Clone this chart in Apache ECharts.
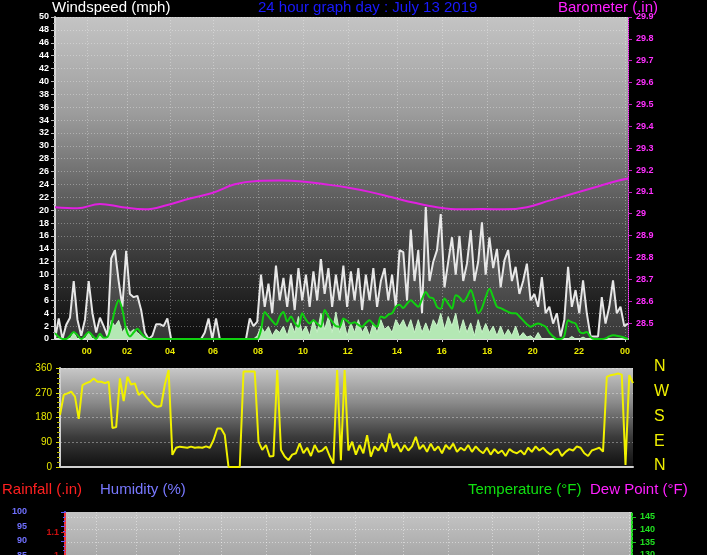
<!DOCTYPE html>
<html>
<head>
<meta charset="utf-8">
<script src="https://cdn.jsdelivr.net/npm/echarts@6/dist/echarts.min.js"></script>
<style>
  html, body { margin: 0; padding: 0; background: #000; }
  #chart { width: 707px; height: 555px; }
</style>
</head>
<body>
<div id="chart"></div>
<script>
// x is the sample number along the day (one sample every few minutes)
const sampleCount = 154
const hourTickIndex = [8.5, 19.2, 30.7, 42.2, 54.2, 66.2, 78.2, 91.3, 103.3, 115.4, 127.6, 139.9, 152.2]
const hourLabels = ['00', '02', '04', '06', '08', '10', '12', '14', '16', '18', '20', '22', '00']

// wind gust (white)
const windGust = [
  0, 3.2, 0, 2.2, 3.3, 9, 3, 0.5, 3, 9,
  4, 1, 3.3, 2, 0.5, 12.5, 13.8, 9, 5, 13.7,
  7, 6.5, 6.7, 4.5, 1, 0, 0.5, 2.3, 2.3, 2,
  3.2, 0, 0, 0, 0, 0, 0, 0, 0, 0,
  1, 3.2, 0, 3.2, 0, 0, 0, 0, 0, 0,
  0, 0, 3.2, 2, 2.7, 10, 5, 8.6, 4, 11.4,
  6, 9.5, 5, 10, 4.5, 11, 6, 10, 5, 10.5,
  6, 12.4, 7, 11, 5, 10, 6, 11.4, 5, 10.5,
  6, 11, 4.5, 10, 6, 11, 5, 9, 11, 6,
  10, 5, 13.8, 13.5, 6, 17, 9, 13.8, 4, 20.5,
  9, 12, 13.8, 19.4, 8, 12, 15.8, 10, 16, 9,
  11.7, 16.9, 9, 12, 18.1, 10, 15.8, 11, 14, 8,
  12.2, 13.8, 9, 11.2, 7, 9, 11.7, 6, 7, 5,
  9.6, 4, 5, 2.4, 4, 0.4, 3, 11.2, 5, 7.6,
  4, 9.1, 4, 0.4, 0.4, 0.4, 6.5, 2.4, 5, 9.1,
  4, 5, 2, 2.4
]

// wind speed (pale green fill)
const windSpeed = [
  0, 0, 0, 0, 0, 1, 0, 0, 0, 1,
  0, 0, 0.5, 0, 0, 2.9, 2, 2.9, 1, 2,
  1, 1.5, 1, 0.5, 0, 0, 0, 0, 0, 0,
  0, 0, 0, 0, 0, 0, 0, 0, 0, 0,
  0, 0, 0, 0, 0, 0, 0, 0, 0, 0,
  0, 0, 0, 0, 0.5, 2, 1, 1.9, 0.5, 1.5,
  1, 2, 0.5, 2.5, 1, 3.5, 1, 2, 0.5, 3,
  1, 4, 1.5, 3.5, 1, 4.2, 1, 3, 0.5, 2.5,
  1, 3, 1, 2, 0.5, 2.5, 1, 3, 1.5, 2,
  1, 3, 2, 3, 1.5, 3, 1, 3, 1, 2.5,
  1, 3, 2, 4, 1.5, 3.5, 2, 4, 1, 3,
  1, 2.5, 0.5, 3, 1, 2.4, 1, 2, 0.5, 2,
  0.5, 1.5, 0.5, 2, 0.3, 1, 0.3, 0.5, 0, 1,
  0, 0, 0, 0, 0, 0, 0, 0, 0.4, 0,
  0, 0.3, 0, 0, 0, 0, 0, 0, 0, 0,
  0, 0, 0, 0
]

// average wind (green line)
const windAvg = [
  0.9, 0.3, 0, 0, 0.5, 1.1, 0.6, 0, 0.5, 1.1,
  0.5, 0, 0.8, 0.2, 0.3, 2, 4.5, 6, 4.5, 1.5,
  0.4, 1, 1.6, 0.9, 0.3, 0, 0, 0, 0, 0,
  0, 0, 0, 0, 0, 0, 0, 0, 0, 0,
  0, 0, 0, 0, 0, 0, 0, 0, 0, 0,
  0, 0, 0, 0, 0, 1.4, 4.2, 3.5, 2.8, 2.2,
  3.5, 4.2, 2.7, 3.5, 2.5, 1.9, 4, 3, 2.4, 2.9,
  2.4, 1.9, 4.5, 3.5, 2.7, 2, 1.9, 3.2, 2.8, 2.4,
  2.6, 2.2, 1.9, 2.5, 2.9, 2.3, 1.9, 3.5, 3.3, 3.8,
  4, 5, 5.3, 4.8, 5.5, 6, 5.5, 5, 6.2, 7.3,
  6.5, 6.3, 5, 4.7, 6.3, 5.5, 4.7, 6.8, 6.5, 5.8,
  6.5, 7.6, 6, 4, 4.8, 6.5, 7.8, 6.5, 5, 4.8,
  4.5, 4.2, 4, 4, 3.5, 2.9, 2.3, 1.9, 2.2, 2.4,
  2.2, 1.9, 1, 0.4, 0, 0, 0.5, 2.9, 2.6, 2.4,
  1.2, 0.9, 1.1, 0.3, 0, 0, 0, 0.1, 0.4, 0.6,
  0.5, 0.4, 0.2, 0
]

// barometer, one reading every 6 samples
const baroStep = 6
const barometer = [
  29.03, 29.025, 29.045, 29.03, 29.02, 29.04, 29.07, 29.095, 29.135, 29.15,
  29.152, 29.148, 29.135, 29.12, 29.1, 29.075, 29.05, 29.03, 29.02, 29.022,
  29.02, 29.03, 29.06, 29.09, 29.12, 29.15, 29.17
]
const baroTicks = [28.5, 28.6, 28.7, 28.8, 28.9, 29, 29.1, 29.2, 29.3, 29.4, 29.5, 29.6, 29.7, 29.8, 29.9]

// wind direction (degrees)
const windDir = [
  189, 262, 268, 274, 256, 175, 298, 305, 310, 322,
  310, 310, 305, 310, 142, 145, 322, 240, 328, 300,
  304, 262, 274, 256, 240, 225, 219, 222, 300, 353,
  44, 70, 74, 72, 70, 74, 70, 72, 70, 75,
  70, 98, 140, 140, 116, 0, 0, 0, 0, 347,
  347, 347, 347, 92, 62, 80, 38, 40, 353, 62,
  38, 25, 45, 50, 86, 50, 70, 40, 80, 55,
  60, 74, 40, 13, 353, 25, 353, 60, 92, 45,
  80, 50, 116, 38, 75, 60, 86, 55, 122, 70,
  86, 55, 80, 60, 75, 110, 65, 80, 55, 85,
  60, 75, 50, 80, 65, 85, 55, 70, 60, 80,
  55, 75, 60, 50, 70, 45, 65, 50, 60, 40,
  65, 55, 50, 60, 45, 70, 55, 75, 60, 70,
  55, 45, 60, 65, 40, 55, 65, 60, 75, 70,
  50, 40, 60, 65, 70, 56, 328, 334, 336, 340,
  336, 7, 334, 305
]
const compassLabels = ['N', 'W', 'S', 'E', 'N']
const compassValues = [360, 270, 180, 90, 0]

// lower panel axes (only the top of this panel is in view)
const rainTicks = [1.1, 1]
const tempTicks = [145, 140, 135, 130]

const font = '"Liberation Sans", Arial, sans-serif'

const chart = echarts.init(document.getElementById('chart'))

const plotGradient = (stops) => new echarts.graphic.LinearGradient(0, 0, 0, 1,
  stops.map(s => ({ offset: s[0], color: s[1] })))

const hourLabel = (v) => {
  let best = 0
  hourTickIndex.forEach((t, i) => {
    if (Math.abs(t - v) < Math.abs(hourTickIndex[best] - v)) best = i
  })
  return hourLabels[best]
}

const dotted = { color: 'rgba(255,255,255,0.32)', type: [1, 2], width: 1 }

const titleText = (text, left, top, fill, size) => ({
  type: 'text',
  left: left,
  top: top,
  style: { text: text, fill: fill, font: (size || 15) + 'px ' + font }
})

const dirPlotTop = 368
const dirPlotHeight = 99

const option = {
  backgroundColor: '#000',
  animation: false,
  textStyle: { fontFamily: font },
  grid: [
    {
      left: 55, top: 17, width: 573, height: 322,
      show: true, borderWidth: 0, outerBoundsMode: 'none',
      backgroundColor: plotGradient([[0, '#c4c4c4'], [0.3, '#9c9c9c'], [0.6, '#555555'], [0.85, '#262626'], [1, '#0c0c0c']])
    },
    {
      left: 60, top: dirPlotTop, width: 573, height: dirPlotHeight,
      show: true, borderWidth: 0, outerBoundsMode: 'none',
      backgroundColor: plotGradient([[0, '#c8c8c8'], [0.35, '#8a8a8a'], [0.7, '#3a3a3a'], [1, '#101010']])
    },
    {
      left: 65, top: 512, width: 567, height: 43.5,
      show: true, borderWidth: 0, outerBoundsMode: 'none',
      backgroundColor: plotGradient([[0, '#c4c4c4'], [1, '#a8a8a8']])
    }
  ],
  xAxis: [
    {
      gridIndex: 0, type: 'value', min: 0, max: sampleCount - 1,
      axisLine: { show: true, onZero: false, lineStyle: { color: '#e0e0e0', width: 2 } },
      axisTick: { show: true, customValues: hourTickIndex, length: 3, lineStyle: { color: '#cccccc' } },
      axisLabel: {
        customValues: hourTickIndex, formatter: hourLabel,
        color: '#e8e800', fontSize: 9, fontWeight: 'bold', margin: 8
      },
      splitLine: { show: true, lineStyle: dotted }
    },
    {
      gridIndex: 1, type: 'value', min: 0, max: sampleCount - 1,
      axisLine: { show: true, onZero: false, lineStyle: { color: '#d0d0d0', width: 2 } },
      axisTick: { show: false },
      axisLabel: { show: false },
      splitLine: { show: false }
    },
    {
      gridIndex: 2, type: 'value', min: 0, max: sampleCount - 1,
      axisLine: { show: false },
      axisTick: { show: false, customValues: hourTickIndex },
      axisLabel: { show: false, customValues: hourTickIndex },
      splitLine: { show: true, lineStyle: { color: 'rgba(255,255,255,0.45)', type: [1, 2], width: 1 } }
    }
  ],
  yAxis: [
    {
      gridIndex: 0, type: 'value', min: 0, max: 50, interval: 2, position: 'left',
      axisLine: { show: true, lineStyle: { color: '#d8d8d8', width: 2 } },
      axisTick: { show: true, length: 4, lineStyle: { color: '#bbbbbb' } },
      minorTick: { show: true, splitNumber: 2, length: 2, lineStyle: { color: '#999999' } },
      axisLabel: { color: '#ffffff', fontSize: 9, fontWeight: 'bold', margin: 6 },
      splitLine: { show: true, lineStyle: dotted }
    },
    {
      gridIndex: 0, type: 'value', min: 28.427, max: 29.9, position: 'right',
      axisLine: { show: true, lineStyle: { color: '#ff40ff', width: 1, type: 'dotted' } },
      axisTick: { show: true, customValues: baroTicks, length: 4, lineStyle: { color: '#c020c0' } },
      axisLabel: { customValues: baroTicks, color: '#ff30ff', fontSize: 9, fontWeight: 'bold', margin: 8 },
      splitLine: { show: false }
    },
    {
      gridIndex: 1, type: 'value', min: 0, max: 360, interval: 90, position: 'left',
      axisLine: { show: true, lineStyle: { color: '#d0d0d0', width: 2 } },
      axisTick: { show: true, length: 4, lineStyle: { color: '#d8d800' } },
      minorTick: { show: true, splitNumber: 5, length: 3, lineStyle: { color: '#b8b800' } },
      axisLabel: { color: '#e8e800', fontSize: 10, margin: 8 },
      splitLine: { show: true, lineStyle: { color: 'rgba(255,255,255,0.35)', type: [2, 2] } }
    },
    {
      gridIndex: 2, type: 'value', min: 85, max: 100, interval: 5, position: 'left', offset: 33,
      axisLine: { show: true, lineStyle: { color: '#5a5aff', width: 2 } },
      axisTick: { show: true, length: 4, lineStyle: { color: '#5a5aff' } },
      minorTick: { show: true, splitNumber: 3, length: 2, lineStyle: { color: '#5a5aff' } },
      axisLabel: { color: '#7070ff', fontSize: 9, fontWeight: 'bold', margin: 5 },
      splitLine: { show: false }
    },
    {
      gridIndex: 2, type: 'value', min: 0.998, max: 1.187, position: 'left', offset: 0,
      axisLine: { show: true, lineStyle: { color: '#ff3030', width: 2, type: 'dotted' } },
      axisTick: { show: true, customValues: rainTicks, length: 4, lineStyle: { color: '#d02020' } },
      axisLabel: { customValues: rainTicks, color: '#cc1010', fontSize: 9, fontWeight: 'bold', margin: 6 },
      splitLine: { show: false }
    },
    {
      gridIndex: 2, type: 'value', min: 129.8, max: 146.97, position: 'right',
      axisLine: { show: true, lineStyle: { color: '#20e020', width: 2, type: 'dotted' } },
      axisTick: { show: true, customValues: tempTicks, length: 4, lineStyle: { color: '#20c020' } },
      axisLabel: { customValues: tempTicks, color: '#20e020', fontSize: 9, fontWeight: 'bold', margin: 8 },
      splitLine: { show: true, lineStyle: { color: 'rgba(255,255,255,0.45)', type: [1, 2], width: 1 } }
    }
  ],
  series: [
    {
      name: 'Gust', type: 'line', xAxisIndex: 0, yAxisIndex: 0,
      data: windGust.map((v, i) => [i, v]),
      showSymbol: false, clip: true,
      lineStyle: { color: 'rgba(240,240,240,0.95)', width: 2 },
      areaStyle: { color: 'rgba(255,255,255,0.26)' }
    },
    {
      name: 'Wind', type: 'line', xAxisIndex: 0, yAxisIndex: 0,
      data: windSpeed.map((v, i) => [i, v]),
      showSymbol: false, clip: true,
      lineStyle: { color: '#c8f4c8', width: 1 },
      areaStyle: { color: '#b4e8b4', opacity: 1 }
    },
    {
      name: 'Average', type: 'line', xAxisIndex: 0, yAxisIndex: 0,
      data: windAvg.map((v, i) => [i, v]),
      showSymbol: false, smooth: 0.3, clip: true,
      lineStyle: { color: '#10d010', width: 2 }
    },
    {
      name: 'Barometer', type: 'line', xAxisIndex: 0, yAxisIndex: 1,
      data: barometer.map((v, i) => [i * baroStep, v]),
      showSymbol: false, smooth: 0.4, clip: true,
      lineStyle: { color: '#e020e0', width: 2 }
    },
    {
      name: 'Direction', type: 'line', xAxisIndex: 1, yAxisIndex: 2,
      data: windDir.map((v, i) => [i, v]),
      showSymbol: false, clip: true,
      lineStyle: { color: '#f0f000', width: 2 }
    }
  ],
  graphic: [
    titleText('Windspeed (mph)', 52, 0, '#ffffff'),
    titleText('24 hour graph day : July 13 2019', 258, 0, '#1a1aff'),
    titleText('Barometer (.in)', 558, 0, '#ff20ff'),
    titleText('Rainfall (.in)', 2, 482, '#ff2020'),
    titleText('Humidity (%)', 100, 482, '#7878ff'),
    titleText('Temperature (°F)', 468, 482, '#10e010'),
    titleText('Dew Point (°F)', 590, 482, '#ff20ff')
  ].concat(compassLabels.map((c, i) => ({
    type: 'text',
    left: 654,
    top: dirPlotTop + (360 - compassValues[i]) / 360 * dirPlotHeight - 9,
    style: { text: c, fill: '#f0f000', font: '16px ' + font }
  })))
}

chart.setOption(option)
window.addEventListener('resize', () => chart.resize())
</script>
</body>
</html>
